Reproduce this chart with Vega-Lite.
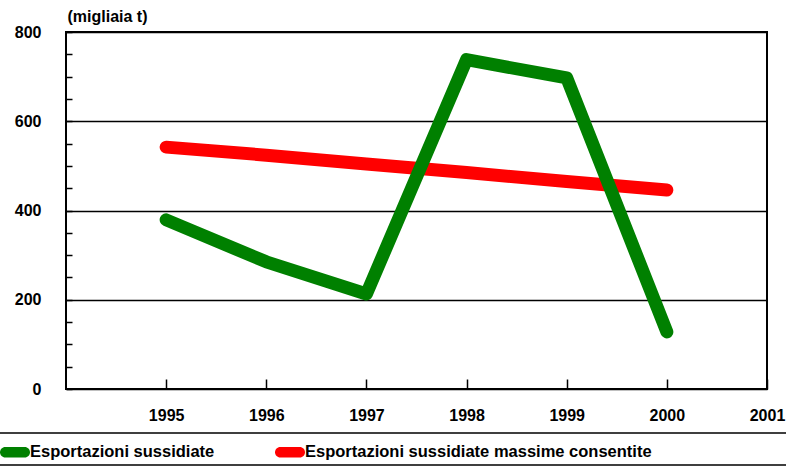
{
  "$schema": "https://vega.github.io/schema/vega-lite/v6.json",
  "width": 701,
  "height": 357,
  "autosize": {"type": "none"},
  "padding": {"left": 66, "top": 32, "right": 19, "bottom": 77},
  "background": "white",
  "config": {
    "view": {"stroke": "#000", "strokeWidth": 2},
    "font": "Liberation Sans",
    "axis": {"labelFont": "Liberation Sans", "labelFontSize": 16, "labelFontWeight": "bold", "labelColor": "#000", "titleFont": "Liberation Sans", "titleColor": "#000"},
    "legend": {"labelFont": "Liberation Sans"}
  },
  "data": {
    "values": [
      {"series": "Esportazioni sussidiate massime consentite", "year": 1995, "value": 542},
      {"series": "Esportazioni sussidiate massime consentite", "year": 1996, "value": 524},
      {"series": "Esportazioni sussidiate massime consentite", "year": 1997, "value": 504},
      {"series": "Esportazioni sussidiate massime consentite", "year": 1998, "value": 485},
      {"series": "Esportazioni sussidiate massime consentite", "year": 1999, "value": 465},
      {"series": "Esportazioni sussidiate massime consentite", "year": 2000, "value": 446},
      {"series": "Esportazioni sussidiate", "year": 1995, "value": 379},
      {"series": "Esportazioni sussidiate", "year": 1996, "value": 285},
      {"series": "Esportazioni sussidiate", "year": 1997, "value": 213},
      {"series": "Esportazioni sussidiate", "year": 1998, "value": 738},
      {"series": "Esportazioni sussidiate", "year": 1999, "value": 697},
      {"series": "Esportazioni sussidiate", "year": 2000, "value": 128}
    ]
  },
  "encoding": {
    "x": {
      "field": "year", "type": "quantitative",
      "scale": {"domain": [1994, 2001], "nice": false, "zero": false},
      "axis": {
        "values": [1995, 1996, 1997, 1998, 1999, 2000, 2001],
        "format": "d", "title": null, "domain": false, "grid": false,
        "tickSize": -10, "tickColor": "#000", "tickWidth": 1.5,
        "labelPadding": 28, "labelFlush": false, "labelOverlap": false
      }
    },
    "y": {
      "field": "value", "type": "quantitative",
      "scale": {"domain": [0, 800], "nice": false},
      "axis": {
        "values": [0, 50, 100, 150, 200, 250, 300, 350, 400, 450, 500, 550, 600, 650, 700, 750, 800],
        "labelExpr": "datum.value % 200 === 0 ? datum.label : ''",
        "title": "(migliaia t)", "titleAngle": 0, "titleAlign": "left", "titleBaseline": "middle",
        "titleX": 1, "titleY": -16, "titleFontSize": 16, "titleFontWeight": "bold",
        "grid": true, "gridColor": "#000", "gridWidth": 1.5,
        "gridOpacity": {"condition": {"test": "datum.value % 200 === 0", "value": 1}, "value": 0},
        "tickSize": -6, "tickColor": "#000", "tickWidth": 1.5,
        "domain": false, "labelPadding": 31, "labelFlush": false, "labelOverlap": false
      }
    },
    "color": {
      "field": "series", "type": "nominal",
      "scale": {"domain": ["Esportazioni sussidiate", "Esportazioni sussidiate massime consentite"], "range": ["#008000", "#ff0000"]},
      "legend": {
        "orient": "none", "legendX": -67, "legendY": 401, "direction": "horizontal",
        "title": null, "padding": 4, "strokeColor": "#000",
        "symbolType": "M-0.65,-0.35H0.65A0.35,0.35 0 0 1 0.65,0.35H-0.65A0.35,0.35 0 0 1 -0.65,-0.35Z",
        "symbolSize": 900, "symbolOffset": -3, "symbolStrokeWidth": 0,
        "labelOffset": 0, "columnPadding": 60,
        "labelFontSize": 16.5, "labelFontWeight": "bold", "labelColor": "#000", "labelLimit": 3000,
        "labelExpr": "datum.value == 'Esportazioni sussidiate' ? datum.label : datum.label + '\u2800\u2800\u2800\u2800\u2800\u2800\u2800\u2800\u2800\u2800\u2800\u2800\u2800\u2800\u2800\u2800\u2800\u2800\u2800\u2800\u2800\u2800\u2800\u2800\u2800\u2800\u2800\u2800\u2800\u2800'",
        "encode": {
          "symbols": {"update": {"fill": {"scale": "color", "field": "value"}, "strokeWidth": {"value": 0}}},
          "legend": {"update": {"strokeWidth": {"value": 1.5}}}
        }
      }
    }
  },
  "layer": [
    {
      "transform": [{"filter": "datum.series == 'Esportazioni sussidiate massime consentite'"}],
      "mark": {"type": "line", "strokeWidth": 13, "strokeCap": "round", "strokeJoin": "round", "clip": false}
    },
    {
      "transform": [{"filter": "datum.series == 'Esportazioni sussidiate'"}],
      "mark": {"type": "line", "strokeWidth": 13, "strokeCap": "round", "strokeJoin": "round", "clip": false}
    }
  ]
}
